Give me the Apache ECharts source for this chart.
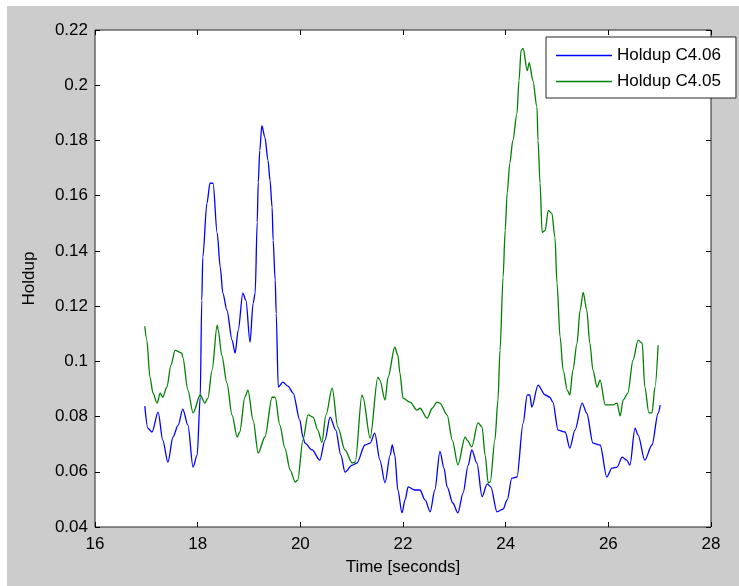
<!DOCTYPE html>
<html>
<head>
<meta charset="utf-8">
<script src="https://cdn.jsdelivr.net/npm/echarts@6/dist/echarts.min.js"></script>
<style>
  html, body { margin: 0; padding: 0; background: #fff; }
  #chart {
    width: 739px; height: 586px;
    background: linear-gradient(#cccccc, #cccccc) 7px 6px / 100% 100% no-repeat, #fff;
  }
</style>
</head>
<body>
<div id="chart"></div>
<script>
// Holdup C4.06 (blue)
const timeC406 = [16.97, 17.03, 17.11, 17.23, 17.32, 17.42, 17.52, 17.62, 17.71, 17.81, 17.91, 17.99,
    18.05, 18.08, 18.10, 18.18, 18.24, 18.30, 18.38, 18.44, 18.49, 18.57, 18.67, 18.73, 18.79, 18.88,
    18.94, 19.02, 19.08, 19.12, 19.16, 19.18, 19.21, 19.25, 19.31, 19.37, 19.41, 19.45, 19.47, 19.51,
    19.53, 19.57, 19.66, 19.76, 19.86, 19.99, 20.05, 20.09, 20.23, 20.38, 20.48, 20.58, 20.69, 20.79,
    20.87, 21.01, 21.10, 21.26, 21.36, 21.45, 21.55, 21.65, 21.75, 21.79, 21.84, 21.90, 21.98, 22.04,
    22.10, 22.23, 22.33, 22.43, 22.53, 22.62, 22.72, 22.80, 22.86, 22.97, 23.07, 23.17, 23.27, 23.34,
    23.44, 23.54, 23.64, 23.71, 23.83, 23.95, 24.03, 24.12, 24.22, 24.34, 24.42, 24.47, 24.51, 24.63,
    24.77, 24.86, 24.92, 25.02, 25.16, 25.25, 25.35, 25.49, 25.58, 25.70, 25.84, 25.97, 26.07, 26.17,
    26.27, 26.36, 26.42, 26.52, 26.58, 26.71, 26.85, 26.97, 27.01];
const holdupC406 = [0.0838, 0.0758, 0.0744, 0.0816, 0.0715, 0.0635, 0.0726, 0.0769, 0.0827, 0.0769, 0.0617, 0.0660,
    0.0870, 0.1221, 0.1377, 0.1572, 0.1645, 0.1645, 0.1464, 0.1341, 0.1247, 0.1185, 0.1077, 0.1030, 0.1113, 0.1247,
    0.1221, 0.1069, 0.1210, 0.1247, 0.1504, 0.1648, 0.1764, 0.1854, 0.1811, 0.1728, 0.1655, 0.1558, 0.1438, 0.1294,
    0.1174, 0.0907, 0.0925, 0.0910, 0.0885, 0.0787, 0.0726, 0.0704, 0.0679, 0.0642, 0.0715, 0.0798, 0.0751, 0.0660,
    0.0599, 0.0624, 0.0631, 0.0697, 0.0704, 0.0740, 0.0642, 0.0560, 0.0660, 0.0697, 0.0660, 0.0534, 0.0451, 0.0498,
    0.0545, 0.0534, 0.0534, 0.0498, 0.0455, 0.0534, 0.0674, 0.0612, 0.0545, 0.0487, 0.0451, 0.0523, 0.0624, 0.0679,
    0.0631, 0.0510, 0.0556, 0.0545, 0.0455, 0.0465, 0.0498, 0.0577, 0.0581, 0.0776, 0.0878, 0.0878, 0.0834, 0.0914,
    0.0878, 0.0870, 0.0852, 0.0751, 0.0744, 0.0686, 0.0751, 0.0849, 0.0812, 0.0704, 0.0697, 0.0581, 0.0613, 0.0617,
    0.0653, 0.0642, 0.0624, 0.0758, 0.0733, 0.0642, 0.0697, 0.0812, 0.0841];

// Holdup C4.05 (green)
const timeC405 = [16.97, 17.01, 17.07, 17.13, 17.21, 17.27, 17.32, 17.40, 17.48, 17.56, 17.69, 17.71, 17.81, 17.91,
    18.05, 18.14, 18.20, 18.28, 18.38, 18.40, 18.47, 18.57, 18.67, 18.77, 18.82, 18.92, 18.98, 19.08, 19.18,
    19.31, 19.45, 19.51, 19.60, 19.70, 19.80, 19.90, 19.95, 20.05, 20.15, 20.25, 20.34, 20.42, 20.50, 20.62,
    20.73, 20.87, 21.01, 21.07, 21.20, 21.22, 21.36, 21.51, 21.55, 21.65, 21.71, 21.84, 21.90, 21.94, 22.00,
    22.14, 22.27, 22.33, 22.47, 22.57, 22.66, 22.72, 22.86, 22.96, 23.07, 23.21, 23.25, 23.34, 23.46, 23.54,
    23.60, 23.66, 23.70, 23.79, 23.85, 23.89, 23.95, 23.99, 24.03, 24.08, 24.14, 24.22, 24.26, 24.30, 24.34,
    24.42, 24.46, 24.53, 24.61, 24.63, 24.67, 24.71, 24.77, 24.83, 24.90, 24.96, 25.00, 25.06, 25.12, 25.20,
    25.25, 25.31, 25.39, 25.45, 25.51, 25.58, 25.64, 25.70, 25.78, 25.84, 25.94, 26.09, 26.17, 26.23, 26.29,
    26.38, 26.48, 26.58, 26.66, 26.71, 26.79, 26.85, 26.91, 26.97];
const holdupC405 = [0.1127, 0.1077, 0.0943, 0.0885, 0.0849, 0.0885, 0.0870, 0.0907, 0.0986, 0.1040, 0.1030, 0.1015, 0.0896, 0.0813,
    0.0878, 0.0849, 0.0867, 0.0968, 0.1131, 0.1113, 0.1022, 0.0921, 0.0805, 0.0726, 0.0744, 0.0870, 0.0896, 0.0787, 0.0668,
    0.0726, 0.0870, 0.0870, 0.0769, 0.0686, 0.0607, 0.0563, 0.0570, 0.0715, 0.0806, 0.0798, 0.0751, 0.0707, 0.0806, 0.0903,
    0.0762, 0.0679, 0.0632, 0.0635, 0.0878, 0.0870, 0.0722, 0.0943, 0.0932, 0.0860, 0.0943, 0.1051, 0.1022, 0.0957, 0.0867,
    0.0852, 0.0823, 0.0830, 0.0794, 0.0830, 0.0852, 0.0849, 0.0805, 0.0715, 0.0625, 0.0726, 0.0715, 0.0690, 0.0777, 0.0762,
    0.0660, 0.0560, 0.0563, 0.0715, 0.0860, 0.1040, 0.1305, 0.1474, 0.1610, 0.1717, 0.1800, 0.1898, 0.2017, 0.2126, 0.2133,
    0.2053, 0.2082, 0.2017, 0.1920, 0.1800, 0.1645, 0.1467, 0.1474, 0.1547, 0.1536, 0.1449, 0.1283, 0.1088, 0.0968, 0.0896,
    0.0878, 0.0968, 0.1066, 0.1185, 0.1250, 0.1185, 0.1066, 0.0968, 0.0907, 0.0932, 0.0842, 0.0842, 0.0849, 0.0802, 0.0860,
    0.0885, 0.1004, 0.1077, 0.1066, 0.0907, 0.0813, 0.0813, 0.0907, 0.1058];

const xTicks = { min: 16, max: 28, step: 2 };
const yTicks = { min: 0.04, max: 0.22, step: 0.02 };

const font = "'Liberation Sans', Arial, sans-serif";
const chart = echarts.init(document.getElementById('chart'), null, { renderer: 'canvas' });

const pairs = (xs, ys) => xs.map((x, i) => [x, ys[i]]);

const hiddenAxis = {
    type: 'value',
    axisLine: { show: false },
    axisTick: { show: true, inside: true, length: 5, lineStyle: { color: '#000' } },
    axisLabel: { show: false },
    splitLine: { show: false }
};

chart.setOption({
    animation: false,
    backgroundColor: 'transparent',
    textStyle: { fontFamily: font },
    grid: {
        left: 95, right: 28, top: 30, bottom: 59,
        show: true, backgroundColor: '#fff', borderColor: '#262626', borderWidth: 1
    },
    legend: {
        orient: 'vertical',
        left: 546, top: 37,
        padding: [10, 15, 8, 10],
        icon: 'rect',
        itemWidth: 56, itemHeight: 1.5, itemGap: 9,
        backgroundColor: '#fff', borderColor: '#262626', borderWidth: 1, borderRadius: 0,
        textStyle: { fontSize: 17, color: '#000', fontFamily: font },
        data: ['Holdup C4.06', 'Holdup C4.05']
    },
    xAxis: [{
        type: 'value', min: xTicks.min, max: xTicks.max, interval: xTicks.step,
        name: 'Time [seconds]', nameLocation: 'middle', nameGap: 32,
        nameTextStyle: { fontSize: 17, color: '#000', fontFamily: font },
        axisLine: { show: false },
        axisTick: { inside: true, length: 5, lineStyle: { color: '#000' } },
        axisLabel: { fontSize: 17, color: '#000', margin: 9 },
        splitLine: { show: false }
    }, Object.assign({}, hiddenAxis, {
        position: 'top', min: xTicks.min, max: xTicks.max, interval: xTicks.step
    })],
    yAxis: [{
        type: 'value', min: yTicks.min, max: yTicks.max, interval: yTicks.step,
        name: 'Holdup', nameLocation: 'middle', nameGap: 57,
        nameTextStyle: { fontSize: 17, color: '#000', fontFamily: font },
        axisLine: { show: false },
        axisTick: { inside: true, length: 5, lineStyle: { color: '#000' } },
        axisLabel: { fontSize: 17, color: '#000', margin: 7, formatter: v => String(+v.toFixed(2)) },
        splitLine: { show: false }
    }, Object.assign({}, hiddenAxis, {
        position: 'right', min: yTicks.min, max: yTicks.max, interval: yTicks.step
    })],
    series: [{
        name: 'Holdup C4.06',
        type: 'line',
        data: pairs(timeC406, holdupC406),
        symbol: 'none',
        smooth: 0.3,
        smoothMonotone: 'x',
        lineStyle: { color: '#0000ff', width: 1.3 },
        itemStyle: { color: '#0000ff' }
    }, {
        name: 'Holdup C4.05',
        type: 'line',
        data: pairs(timeC405, holdupC405),
        symbol: 'none',
        smooth: 0.3,
        smoothMonotone: 'x',
        lineStyle: { color: '#008000', width: 1.3 },
        itemStyle: { color: '#008000' }
    }]
});
window.addEventListener('resize', () => chart.resize());
</script>
</body>
</html>
